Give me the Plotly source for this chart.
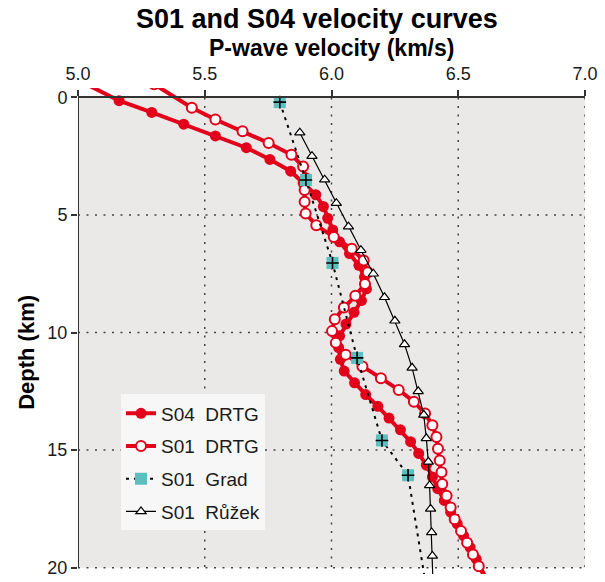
import plotly.graph_objects as go

# ---------------- data ----------------
s04_depth = [-0.9, 0.14, 0.64, 1.14, 1.64, 2.14, 2.64, 3.14, 3.64, 4.14, 4.64, 5.14, 5.64, 6.14, 6.64,
             7.14, 7.64, 8.14, 8.64, 9.14, 9.64, 10.14, 10.64, 11.14, 11.64, 12.14, 12.64, 13.14,
             13.64, 14.14, 14.64, 15.14, 15.64, 16.14, 16.64, 17.14, 17.64, 18.14, 18.64, 19.14,
             19.64, 20.64]
s04_vel = [4.97, 5.162, 5.291, 5.417, 5.542, 5.664, 5.757, 5.839, 5.888, 5.938, 5.968, 5.985, 6.005,
           6.032, 6.071, 6.108, 6.130, 6.138, 6.118, 6.089, 6.057, 6.032, 6.028, 6.035, 6.050, 6.091,
           6.135, 6.183, 6.227, 6.272, 6.312, 6.344, 6.374, 6.398, 6.419, 6.445, 6.470, 6.496, 6.521,
           6.547, 6.571, 6.62]

s01_depth = [-0.56, 0.44, 0.94, 1.44, 1.94, 2.44, 2.94, 3.44, 3.94, 4.44, 4.94, 5.44, 5.94, 6.44,
             6.94, 7.44, 7.94, 8.44, 8.94, 9.44, 9.94, 10.44, 10.94, 11.44, 11.94, 12.44, 12.94,
             13.44, 13.94, 14.44, 14.94, 15.44, 15.94, 16.44, 16.94, 17.44, 17.94, 18.44, 18.94,
             19.44, 19.94, 20.94]
s01_vel = [5.30, 5.449, 5.542, 5.649, 5.752, 5.842, 5.888, 5.898, 5.894, 5.894, 5.898, 5.940, 6.009,
           6.080, 6.127, 6.143, 6.132, 6.094, 6.049, 6.013, 6.002, 6.017, 6.056, 6.122, 6.195, 6.265,
           6.325, 6.369, 6.398, 6.414, 6.420, 6.427, 6.434, 6.437, 6.454, 6.470, 6.486, 6.511, 6.535,
           6.558, 6.581, 6.63]

grad_depth = [0.20, 3.51, 7.04, 11.08, 14.59, 16.07, 21.0]
grad_vel = [5.796, 5.899, 6.004, 6.101, 6.199, 6.302, 6.376]

ruzek_depth = [1.5, 2.5, 3.5, 4.5, 5.5, 6.5, 7.5, 8.5, 9.5, 10.5, 11.5, 12.5, 13.5, 14.5, 15.5,
               16.5, 17.5, 18.5, 19.5, 20.5]
ruzek_vel = [5.875, 5.923, 5.973, 6.019, 6.067, 6.116, 6.165, 6.209, 6.250, 6.288, 6.318, 6.342,
             6.364, 6.374, 6.382, 6.387, 6.391, 6.395, 6.398, 6.400]

x_ticks = [5.0, 5.5, 6.0, 6.5, 7.0]
x_ticktext = ["5.0", "5.5", "6.0", "6.5", "7.0"]
y_ticks = [0, 5, 10, 15, 20]

names = ["S04\u00a0\u00a0DRTG", "S01\u00a0\u00a0DRTG", "S01\u00a0\u00a0Grad", "S01\u00a0\u00a0Růžek"]

# ---------------- style ----------------
RED = "#E2001A"
TEAL = "#5CBFBF"
FONT = "Liberation Sans, Arial, sans-serif"
Y_TOP, Y_BOT = -0.4, 20.27
X_MIN, X_MAX = 5.0, 7.0
W, H = 605, 582
ML, MR, MT, MB = 78, 20, 88, 4
plot_h = H - MT - MB
plot_w = W - ML - MR


def py(pix):  # pixel y -> paper y
    return (H - MB - pix) / plot_h


def px(pix):  # pixel x -> paper x
    return (pix - ML) / plot_w


fig = go.Figure()

fig.add_trace(go.Scatter(
    x=s04_vel, y=s04_depth, mode="lines+markers", name=names[0], legendgroup="a",
    line=dict(color=RED, width=4),
    marker=dict(symbol="circle", size=11, color=RED, line=dict(width=0)),
))
fig.add_trace(go.Scatter(
    x=s01_vel, y=s01_depth, mode="lines+markers", name=names[1], legendgroup="b",
    line=dict(color=RED, width=4),
    marker=dict(symbol="circle", size=10, color="white", line=dict(color=RED, width=2)),
))
fig.add_trace(go.Scatter(
    x=grad_vel, y=grad_depth, mode="lines+markers", name=names[2], legendgroup="c",
    line=dict(color="black", width=2, dash="3px,5px"),
    marker=dict(symbol="square", size=12, color=TEAL, line=dict(width=0)),
))
fig.add_trace(go.Scatter(
    x=grad_vel, y=grad_depth, mode="markers", showlegend=False, legendgroup="c",
    marker=dict(symbol="cross-thin", size=9, color="black", line=dict(color="black", width=1.6)),
    hoverinfo="skip",
))
fig.add_trace(go.Scatter(
    x=ruzek_vel, y=ruzek_depth, mode="lines+markers", name=names[3], legendgroup="d",
    line=dict(color="black", width=1.2),
    marker=dict(symbol="triangle-up", size=9, color="white", line=dict(color="black", width=1.2)),
))

shapes = [
    dict(type="rect", xref="x", yref="y", x0=X_MIN, x1=X_MAX, y0=y_ticks[0], y1=y_ticks[-1],
         fillcolor="#EAE9E8", line=dict(width=0), layer="below"),
]
grid_dash = "2px,6.5px"
for xv in x_ticks[1:]:
    shapes.append(dict(type="line", xref="x", yref="y", x0=xv, x1=xv, y0=y_ticks[0], y1=y_ticks[-1],
                       line=dict(color="#444", width=1.5, dash=grid_dash), layer="below"))
for yv in y_ticks[1:]:
    shapes.append(dict(type="line", xref="x", yref="y", x0=X_MIN, x1=X_MAX, y0=yv, y1=yv,
                       line=dict(color="#444", width=1.5, dash=grid_dash), layer="below"))
shapes.append(dict(type="line", xref="x", yref="y", x0=X_MIN, x1=X_MIN, y0=y_ticks[0], y1=y_ticks[-1],
                   line=dict(color="#333", width=2), layer="below"))

axis_pos = (Y_BOT - 0) / (Y_BOT - Y_TOP)

fig.update_layout(
    width=W, height=H,
    margin=dict(l=ML, r=MR, t=MT, b=MB),
    paper_bgcolor="white", plot_bgcolor="white",
    font=dict(family=FONT, color="#1a1a1a"),
    shapes=shapes,
    showlegend=True,
    legend=dict(
        x=px(121), y=py(397), xanchor="left", yanchor="top",
        bgcolor="#F7F7F7", borderwidth=0,
        font=dict(family=FONT, size=19, color="#1a1a1a"),
        traceorder="grouped", tracegroupgap=5,
    ),
    xaxis=dict(
        range=[X_MIN, X_MAX], side="top", anchor="free", position=axis_pos,
        tickvals=x_ticks, ticktext=x_ticktext,
        showline=True, linecolor="#333", linewidth=2,
        ticks="outside", ticklen=6, tickwidth=1.5, tickcolor="#333",
        ticklabelstandoff=3,
        showgrid=False, zeroline=False,
        tickfont=dict(family=FONT, size=18, color="#1a1a1a"),
    ),
    yaxis=dict(
        range=[Y_BOT, Y_TOP], domain=[0, 1],
        tickvals=y_ticks,
        showline=False, ticks="outside", ticklen=6, tickwidth=1.5, tickcolor="#333",
        showgrid=False, zeroline=False,
        tickfont=dict(family=FONT, size=18, color="#1a1a1a"),
    ),
    annotations=[
        dict(text="<b>S01 and S04 velocity curves</b>", xref="paper", yref="paper",
             x=px(317), y=py(18.5), xanchor="center", yanchor="middle", showarrow=False,
             font=dict(family=FONT, size=27, color="black")),
        dict(text="<b>P-wave velocity (km/s)</b>", xref="paper", yref="paper",
             x=px(331), y=py(47.5), xanchor="center", yanchor="middle", showarrow=False,
             font=dict(family=FONT, size=23, color="black")),
        dict(text="<b>Depth (km)</b>", xref="paper", yref="paper",
             x=px(27), y=py(355), xanchor="center", yanchor="middle", showarrow=False,
             textangle=-90, font=dict(family=FONT, size=22, color="black")),
    ],
)

fig.write_html("out.html")
